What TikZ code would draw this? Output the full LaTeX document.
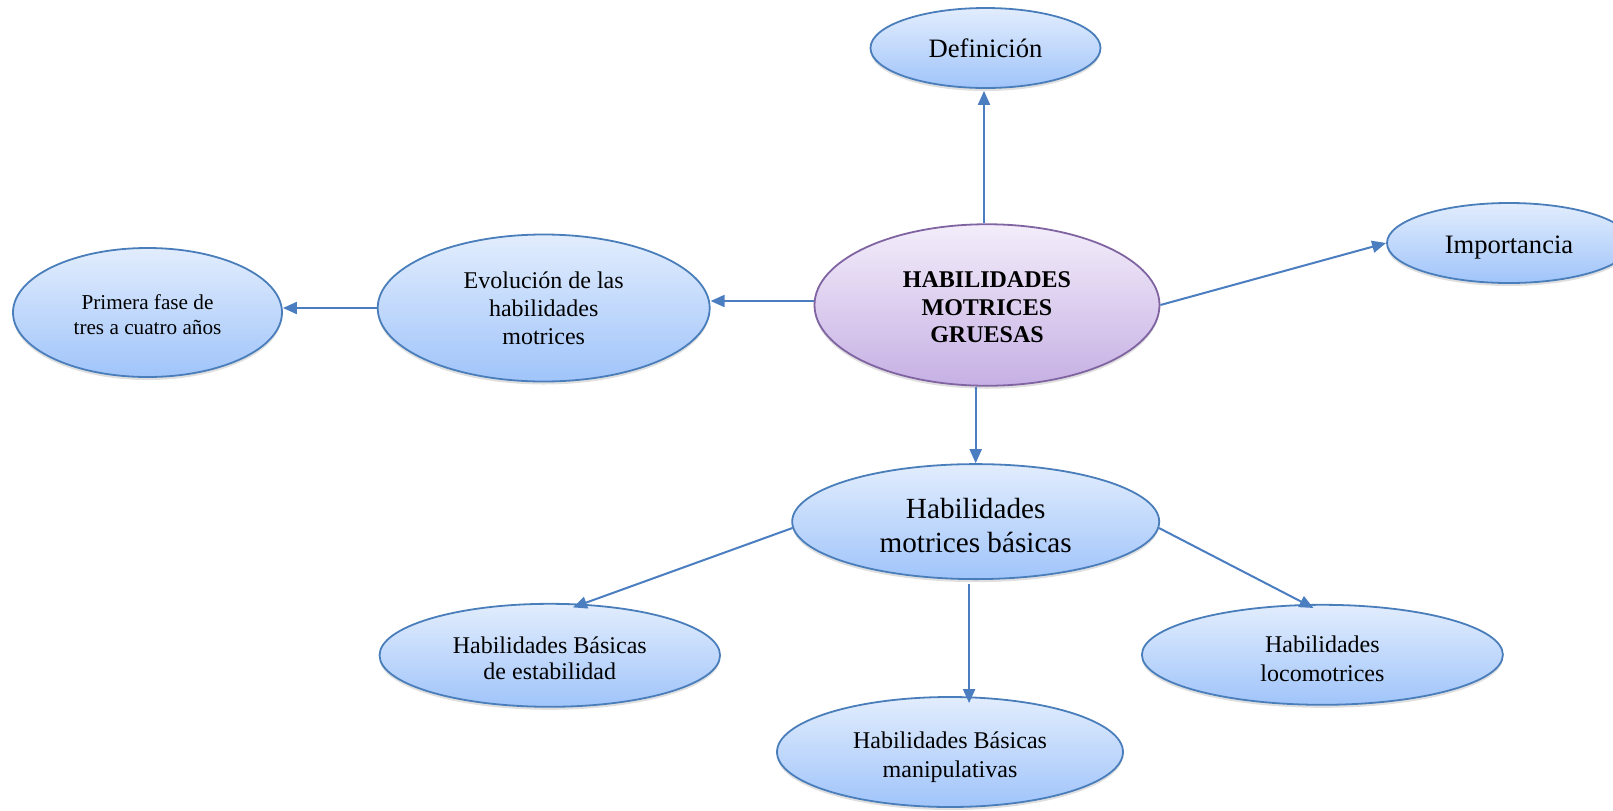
\documentclass[tikz,border=0pt]{standalone}
\usepackage{fontspec}
\setmainfont{Liberation Serif}
\usetikzlibrary{arrows.meta,shapes.geometric,shadows}

\definecolor{bubbleline}{RGB}{74,126,187}
\definecolor{bubbletop}{RGB}{226,237,253}
\definecolor{bubblebot}{RGB}{160,196,250}
\definecolor{coreline}{RGB}{128,100,162}
\definecolor{coretop}{RGB}{243,237,250}
\definecolor{corebot}{RGB}{198,176,228}
\definecolor{arrowblue}{RGB}{74,126,193}

\newcommand{\sinkto}[1]{\rule{0pt}{#1}}

\tikzset{
  bubble/.style={ellipse, draw=bubbleline, line width=0.9pt, top color=bubbletop, bottom color=bubblebot,
    align=center, inner sep=0pt, drop shadow={shadow xshift=0pt, shadow yshift=-1.5pt, opacity=0.25}},
  core/.style={bubble, draw=coreline, top color=coretop, bottom color=corebot},
  link/.style={draw=arrowblue, line width=1pt, -{Triangle[length=7pt,width=6pt]}},
}

\begin{document}
\begin{tikzpicture}[x=0.5pt, y=-0.5pt]
    \useasboundingbox (0,0) rectangle (1613,810);
    \clip (0,0) rectangle (1613,810);
    \node[core, minimum width=172.5pt, minimum height=80.75pt, font=\fontsize{12}{13.6}\selectfont\bfseries] (hmg) at (987,305) {\sinkto{10.2pt}HABILIDADES\\MOTRICES\\GRUESAS};
    \node[bubble, minimum width=115pt, minimum height=40pt, font=\fontsize{13.3}{15.5}\selectfont] (def) at (985.5,48) {\sinkto{10.1pt}Definición};
    \node[bubble, minimum width=122pt, minimum height=40pt, font=\fontsize{13.3}{15.5}\selectfont] (imp) at (1509,243) {\sinkto{13.2pt}Importancia};
    \node[bubble, minimum width=166pt, minimum height=73.5pt, font=\fontsize{12}{14.1}\selectfont] (evol) at (543.7,308) {Evolución de las\\habilidades\\motrices};
    \node[bubble, minimum width=134.5pt, minimum height=64.5pt, font=\fontsize{10.6}{12.3}\selectfont] (prim) at (147.5,312.5) {\sinkto{9.3pt}Primera fase de\\tres a cuatro años};
    \node[bubble, minimum width=183.5pt, minimum height=57.5pt, font=\fontsize{14.6}{17}\selectfont] (bas) at (975.7,521.6) {\sinkto{14.1pt}Habilidades\\motrices básicas};
    \node[bubble, minimum width=170.25pt, minimum height=51.5pt, font=\fontsize{12}{13.4}\selectfont] (estab) at (549.8,655.3) {\sinkto{11.3pt}Habilidades Básicas\\de estabilidad};
    \node[bubble, minimum width=180.5pt, minimum height=50pt, font=\fontsize{12}{14.4}\selectfont] (loco) at (1322.4,654.8) {\sinkto{12.3pt}Habilidades\\locomotrices};
    \node[bubble, minimum width=173pt, minimum height=55pt, font=\fontsize{12}{14.4}\selectfont] (man) at (950,752) {\sinkto{13.3pt}Habilidades Básicas\\manipulativas};

    \draw[link] ([xshift=-1.5pt]hmg.north) -- ([xshift=-1.5pt,yshift=-1pt]hmg.north |- def.south);
    \draw[link] (hmg.east) -- (imp.west);
    \draw[link] ([yshift=2pt]hmg.west) -- ([yshift=2pt]hmg.west -| evol.east);
    \draw[link] (evol.west) -- (evol.west -| prim.east);
    \draw[link] (bas.north |- hmg.south) -- (bas.north);
    \draw[link] (bas.182) -- ([yshift=-2pt]estab.66);
    \draw[link] ([xshift=-3.3pt,yshift=-2pt]bas.south) -- ([xshift=-3.3pt,yshift=-3.5pt]bas.south |- man.north);
    \draw[link] (bas.-2) -- ([yshift=-2pt]loco.100);
\end{tikzpicture}
\end{document}
